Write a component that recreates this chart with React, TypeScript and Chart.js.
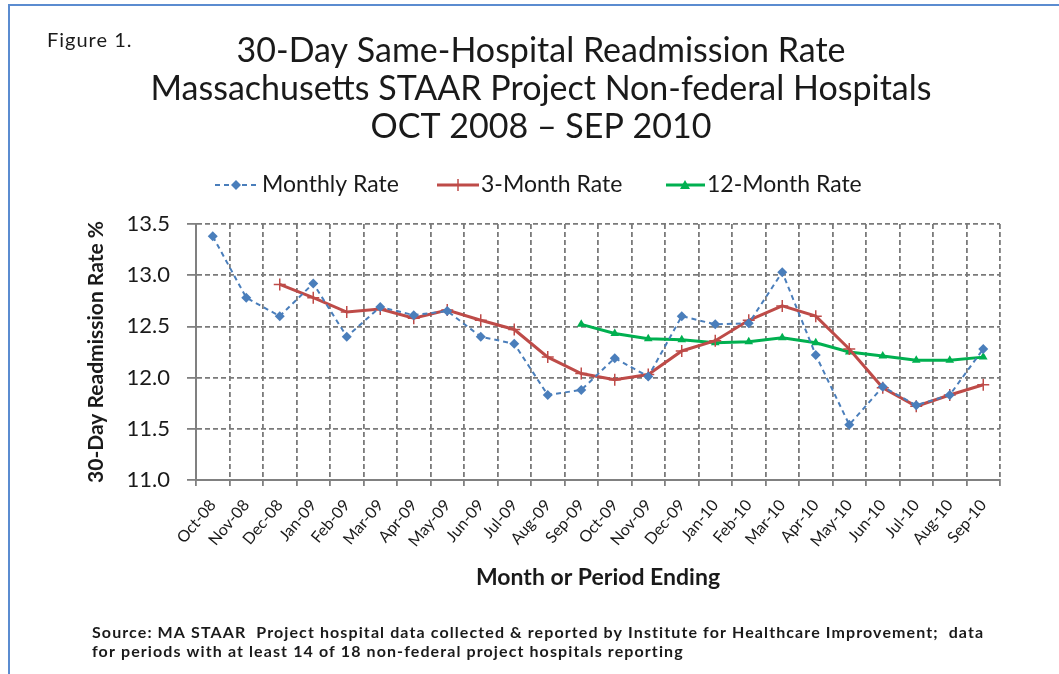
import React, { useEffect, useRef } from "react";
import { Chart, registerables } from "chart.js";

Chart.register(...registerables);

const categories = [
  "Oct-08", "Nov-08", "Dec-08", "Jan-09", "Feb-09", "Mar-09", "Apr-09", "May-09",
  "Jun-09", "Jul-09", "Aug-09", "Sep-09", "Oct-09", "Nov-09", "Dec-09", "Jan-10",
  "Feb-10", "Mar-10", "Apr-10", "May-10", "Jun-10", "Jul-10", "Aug-10", "Sep-10",
];

const monthlyRate = [
  13.38, 12.78, 12.6, 12.92, 12.4, 12.69, 12.61, 12.65, 12.4, 12.33, 11.83, 11.88,
  12.19, 12.01, 12.6, 12.52, 12.53, 13.03, 12.22, 11.54, 11.91, 11.73, 11.83, 12.28,
];

const threeMonthRate = [
  null, null, 12.91, 12.78, 12.64, 12.67, 12.58, 12.66, 12.56, 12.47, 12.2, 12.04,
  11.98, 12.03, 12.26, 12.36, 12.56, 12.7, 12.6, 12.28, 11.9, 11.72, 11.83, 11.93,
];

const twelveMonthRate = [
  null, null, null, null, null, null, null, null, null, null, null, 12.52,
  12.43, 12.38, 12.37, 12.34, 12.35, 12.39, 12.34, 12.25, 12.21, 12.17, 12.17, 12.2,
];

const yTicks = [11.0, 11.5, 12.0, 12.5, 13.0, 13.5];

const titleLines = [
  "30-Day Same-Hospital Readmission Rate",
  "Massachusetts STAAR Project Non-federal Hospitals",
  "OCT 2008 \u2013 SEP 2010",
];
const figureLabel = "Figure 1.";
const seriesNames = ["Monthly Rate", "3-Month Rate", "12-Month Rate"];
const sourceLines = [
  "Source: MA STAAR  Project hospital data collected & reported by Institute for Healthcare Improvement;  data",
  "for periods with at least 14 of 18 non-federal project hospitals reporting",
];
const yTitle = "30-Day Readmission Rate %";
const xTitle = "Month or Period Ending";

const BLUE = "#4a7ebb";
const RED = "#be4b48";
const GREEN = "#00b050";
const FONT = "Lato, 'Open Sans', sans-serif";
const TEXT = "#1a1a1a";
const GRID = "#7a7a7a";
const AXIS = "#808080";

function drawMarker(ctx: CanvasRenderingContext2D, kind: string, x: number, y: number, color: string) {
  ctx.save();
  ctx.fillStyle = color;
  ctx.strokeStyle = color;
  if (kind === "diamond") {
    ctx.beginPath();
    ctx.moveTo(x, y - 5);
    ctx.lineTo(x + 5, y);
    ctx.lineTo(x, y + 5);
    ctx.lineTo(x - 5, y);
    ctx.closePath();
    ctx.fill();
  } else if (kind === "cross") {
    ctx.lineWidth = 1.5;
    ctx.beginPath();
    ctx.moveTo(x, y - 6);
    ctx.lineTo(x, y + 6);
    ctx.stroke();
  } else if (kind === "triangle") {
    ctx.beginPath();
    ctx.moveTo(x, y - 5);
    ctx.lineTo(x + 5, y + 4);
    ctx.lineTo(x - 5, y + 4);
    ctx.closePath();
    ctx.fill();
  }
  ctx.restore();
}

const decorPlugin = {
  id: "decor",
  afterDraw(chart: any) {
    const ctx: any = chart.ctx;
    ctx.save();
    // outer frame
    ctx.strokeStyle = "#5b8cd0";
    ctx.lineWidth = 2;
    ctx.beginPath();
    ctx.moveTo(9, 674);
    ctx.lineTo(9, 5);
    ctx.lineTo(1059, 5);
    ctx.stroke();

    ctx.fillStyle = TEXT;
    ctx.textBaseline = "middle";
    ctx.textAlign = "left";
    ctx.font = `20px ${FONT}`;
    ctx.letterSpacing = "1px";
    ctx.fillText(figureLabel, 47, 41);
    ctx.letterSpacing = "0px";

    ctx.textAlign = "center";
    ctx.font = `34px ${FONT}`;
    const ty = [51, 89, 127];
    titleLines.forEach((t, i) => ctx.fillText(t, 541, ty[i]));

    // legend
    const ly = 185;
    ctx.font = `23px ${FONT}`;
    ctx.textAlign = "left";
    // monthly
    ctx.strokeStyle = BLUE;
    ctx.lineWidth = 2;
    ctx.setLineDash([5, 4]);
    ctx.beginPath();
    ctx.moveTo(215, ly);
    ctx.lineTo(257, ly);
    ctx.stroke();
    ctx.setLineDash([]);
    drawMarker(ctx, "diamond", 236, ly, BLUE);
    ctx.fillText(seriesNames[0], 262, ly);
    // 3-month
    ctx.strokeStyle = RED;
    ctx.lineWidth = 3;
    ctx.beginPath();
    ctx.moveTo(437, ly);
    ctx.lineTo(479, ly);
    ctx.stroke();
    drawMarker(ctx, "cross", 458, ly, RED);
    ctx.fillText(seriesNames[1], 481, ly);
    // 12-month
    ctx.strokeStyle = GREEN;
    ctx.lineWidth = 3;
    ctx.beginPath();
    ctx.moveTo(666, ly);
    ctx.lineTo(705, ly);
    ctx.stroke();
    drawMarker(ctx, "triangle", 685, ly, GREEN);
    ctx.fillText(seriesNames[2], 707, ly);

    // source
    ctx.font = `bold 16px ${FONT}`;
    ctx.letterSpacing = "1.1px";
    ctx.fillText(sourceLines[0], 92, 633);
    ctx.fillText(sourceLines[1], 92, 652);
    ctx.letterSpacing = "0px";
    ctx.restore();
  },
};

export default function App() {
  const ref = useRef<HTMLCanvasElement | null>(null);

  useEffect(() => {
    if (!ref.current) return;
    const chart = new Chart(ref.current, {
      type: "line",
      data: {
        labels: categories,
        datasets: [
          {
            label: seriesNames[0],
            data: monthlyRate,
            borderColor: BLUE,
            backgroundColor: BLUE,
            borderWidth: 2,
            borderDash: [5, 4],
            pointStyle: "rectRot",
            pointRadius: 5,
            pointBorderWidth: 0,
            tension: 0,
          },
          {
            label: seriesNames[1],
            data: threeMonthRate,
            borderColor: RED,
            backgroundColor: RED,
            borderWidth: 3,
            pointStyle: "cross",
            pointRadius: 6,
            pointBorderWidth: 1.5,
            tension: 0,
          },
          {
            label: seriesNames[2],
            data: twelveMonthRate,
            borderColor: GREEN,
            backgroundColor: GREEN,
            borderWidth: 3,
            pointStyle: "triangle",
            pointRadius: 5,
            pointBorderWidth: 0,
            tension: 0,
          },
        ],
      },
      options: {
        responsive: false,
        animation: false,
        events: [],
        layout: { padding: { top: 224, left: 0, right: 59, bottom: 74 } },
        plugins: {
          legend: { display: false },
          title: { display: false },
          tooltip: { enabled: false },
        },
        scales: {
          x: {
            offset: true,
            grid: {
              offset: true,
              color: GRID,
              lineWidth: 1.8,
              tickLength: 6,
              tickColor: AXIS,
              tickBorderDash: [],
            } as any,
            border: { color: AXIS, width: 2, dash: [5, 3] },
            ticks: {
              autoSkip: false,
              maxRotation: 50,
              minRotation: 50,
              padding: 10,
              color: TEXT,
              font: { family: FONT, size: 16 },
            },
            title: {
              display: true,
              text: xTitle,
              color: TEXT,
              font: { family: FONT, size: 23, weight: "bold" },
              padding: { top: 0, bottom: 9 },
            },
            afterFit: (s: any) => {
              s.height = 120;
            },
          },
          y: {
            min: 11,
            max: 13.5,
            afterBuildTicks: (s: any) => {
              s.ticks = yTicks.map((v) => ({ value: v }));
            },
            grid: {
              color: GRID,
              lineWidth: 1.8,
              tickLength: 9,
              tickColor: AXIS,
              tickBorderDash: [],
            } as any,
            border: { color: AXIS, width: 2, dash: [5, 3] },
            ticks: {
              padding: 17,
              color: TEXT,
              font: { family: FONT, size: 22 },
              callback: (v: any) => Number(v).toFixed(1),
            },
            title: {
              display: true,
              text: yTitle,
              color: TEXT,
              font: { family: FONT, size: 21, weight: "bold" },
              padding: { top: 84, bottom: 0 },
            },
            afterFit: (s: any) => {
              s.width = 196;
            },
          },
        },
      },
      plugins: [decorPlugin],
    });
    return () => chart.destroy();
  }, []);

  return (
    <div style={{ position: "fixed", left: 0, top: 0, width: 1059, height: 674, background: "#fff" }}>
      <canvas ref={ref} width={1059} height={674} />
    </div>
  );
}
